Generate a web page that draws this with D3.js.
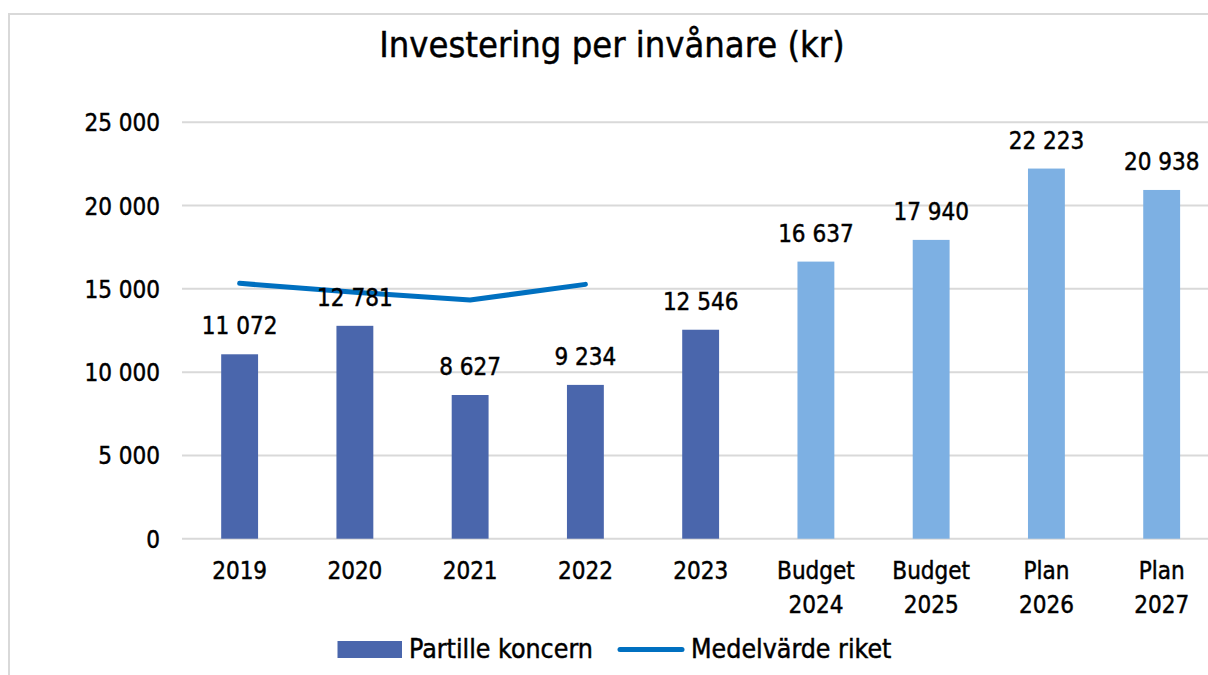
<!DOCTYPE html>
<html>
<head>
<meta charset="utf-8">
<script src="https://cdn.jsdelivr.net/npm/d3@7"></script>
<style>
  html, body { margin: 0; padding: 0; background: #fff; }
  svg { display: block; }
  text { font-family: "DejaVu Sans Condensed", "DejaVu Sans", sans-serif; font-stretch: condensed; fill: #000; stroke: #000; stroke-width: 0.45px; }
</style>
</head>
<body>
<svg id="chart" width="1208" height="675"></svg>
<script>
const categories = [["2019"], ["2020"], ["2021"], ["2022"], ["2023"], ["Budget", "2024"], ["Budget", "2025"], ["Plan", "2026"], ["Plan", "2027"]];
const partille = [11072, 12781, 8627, 9234, 12546, 16637, 17940, 22223, 20938];
const isForecast = [false, false, false, false, false, true, true, true, true];
const riket = [15330, 14800, 14330, 15270];
const yTicks = [0, 5000, 10000, 15000, 20000, 25000];
const title = "Investering per invånare (kr)";
const seriesNames = ["Partille koncern", "Medelvärde riket"];

const colorActual = "#4a66ac";
const colorForecast = "#7db0e3";
const colorLine = "#0070c0";

const svg = d3.select("#chart");
const W = 1208, H = 675;
const fmt = v => d3.format(",")(v).replace(/,/g, " ");

// chart border (extends past right/bottom edges)
svg.append("rect").attr("x", 9).attr("y", 14).attr("width", W + 20).attr("height", H + 20)
  .attr("fill", "#fff").attr("stroke", "#d9d9d9").attr("stroke-width", 2);

const keys = categories.map((c, i) => i);
const x = d3.scaleBand().domain(keys).range([182, 1219.3]).paddingInner(0.68).paddingOuter(0.34);
const y = d3.scaleLinear().domain([0, 25000]).range([538.7, 122.3]);

// title
svg.append("text").attr("x", 612).attr("y", 57).attr("text-anchor", "middle")
  .style("font-size", "36px").text(title);

// gridlines
svg.append("g").selectAll("line").data(yTicks).join("line")
  .attr("x1", 182).attr("x2", W).attr("y1", d => y(d)).attr("y2", d => y(d))
  .attr("stroke", "#d9d9d9").attr("stroke-width", 2);

// y tick labels
svg.append("g").selectAll("text").data(yTicks).join("text")
  .attr("x", 160).attr("y", d => y(d) + 9).attr("text-anchor", "end")
  .style("font-size", "24px").text(d => fmt(d));

// bars
svg.append("g").selectAll("rect").data(partille).join("rect")
  .attr("x", (d, i) => x(i)).attr("width", x.bandwidth())
  .attr("y", d => y(d)).attr("height", d => y(0) - y(d))
  .attr("fill", (d, i) => isForecast[i] ? colorForecast : colorActual);

// line
const line = d3.line().x((d, i) => x(i) + x.bandwidth() / 2).y(d => y(d));
svg.append("path").datum(riket).attr("d", line).attr("fill", "none")
  .attr("stroke", colorLine).attr("stroke-width", 5).attr("stroke-linecap", "round").attr("stroke-linejoin", "round");

// data labels
svg.append("g").selectAll("text").data(partille).join("text")
  .attr("x", (d, i) => x(i) + x.bandwidth() / 2).attr("y", d => y(d) - 20)
  .attr("text-anchor", "middle").style("font-size", "24px").text(d => fmt(d));

// x labels
const xl = svg.append("g").selectAll("text").data(categories).join("text")
  .attr("x", (d, i) => x(i) + x.bandwidth() / 2).attr("y", 579)
  .attr("text-anchor", "middle").style("font-size", "24px");
xl.each(function(d, i) {
  const t = d3.select(this);
  d.forEach((s, j) => {
    t.append("tspan").attr("x", x(i) + x.bandwidth() / 2).attr("dy", j === 0 ? 0 : 34).text(s);
  });
});

// legend
const lg = svg.append("g");
lg.append("rect").attr("x", 337.5).attr("y", 641).attr("width", 64.5).attr("height", 17).attr("fill", colorActual);
lg.append("text").attr("x", 409).attr("y", 658).style("font-size", "26.5px").text(seriesNames[0]);
lg.append("line").attr("x1", 620).attr("x2", 682).attr("y1", 649.5).attr("y2", 649.5)
  .attr("stroke", colorLine).attr("stroke-width", 5).attr("stroke-linecap", "round");
lg.append("text").attr("x", 691).attr("y", 658).style("font-size", "26.5px").text(seriesNames[1]);
</script>
</body>
</html>
